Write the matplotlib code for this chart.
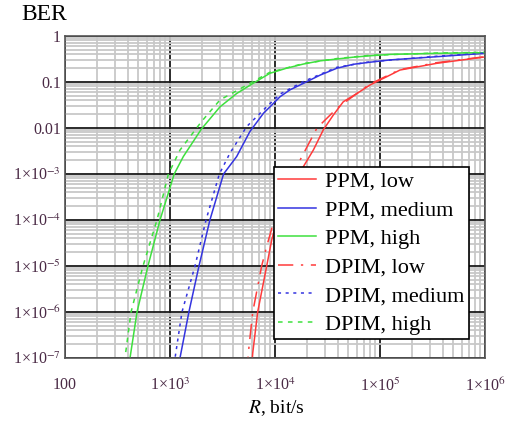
import numpy as np
import matplotlib.pyplot as plt
from matplotlib.ticker import LogLocator, FixedLocator

plt.rcParams['font.family'] = ['Liberation Serif', 'DejaVu Serif']
plt.rcParams['mathtext.fontset'] = 'stix'

# values, as log10(R, bit/s) and log10(BER)
lgr_ppm_high = [2.605, 2.619, 2.686, 2.79, 2.905, 3.04, 3.127, 3.30, 3.476, 3.635, 3.79, 3.952, 4.11, 4.27, 4.43, 4.59, 4.746, 4.905, 5.095, 5.54, 6.0]
lgb_ppm_high = [-7.3, -7, -6, -5, -4, -3, -2.62, -2.02, -1.54, -1.25, -1.03, -0.81, -0.70, -0.61, -0.54, -0.50, -0.46, -0.43, -0.40, -0.376, -0.362]
lgr_dpim_high = [2.555, 2.571, 2.629, 2.743, 2.876, 2.985, 3.095, 3.30, 3.476, 3.76, 3.95, 4.27, 4.59, 4.905, 5.54, 6.0]
lgb_dpim_high = [-7.3, -7, -6, -5, -4, -3, -2.48, -1.86, -1.39, -1.03, -0.79, -0.60, -0.49, -0.42, -0.37, -0.355]

lgr_ppm_med = [3.08, 3.095, 3.18, 3.276, 3.38, 3.51, 3.635, 3.76, 3.89, 3.97, 4.048, 4.143, 4.27, 4.43, 4.59, 4.746, 4.905, 5.095, 5.54, 6.0]
lgb_ppm_med = [-7.3, -7, -6, -5, -4, -3, -2.62, -2.08, -1.68, -1.5, -1.32, -1.17, -1.03, -0.85, -0.70, -0.615, -0.57, -0.52, -0.45, -0.376]
lgr_dpim_med = [3.03, 3.048, 3.114, 3.238, 3.343, 3.47, 3.57, 3.73, 3.92, 4.05, 4.27, 4.59, 4.905, 5.54, 6.0]
lgb_dpim_med = [-7.3, -7, -6, -5, -4, -3, -2.55, -1.97, -1.54, -1.26, -0.99, -0.68, -0.56, -0.44, -0.37]

lgr_ppm_low = [3.775, 3.788, 3.835, 3.921, 3.969, 4.02, 4.1, 4.18, 4.27, 4.365, 4.46, 4.555, 4.65, 4.78, 4.905, 5.0, 5.095, 5.19, 5.54, 6.0]
lgb_ppm_low = [-7.3, -6.89, -6, -5, -4.43, -4.0, -3.5, -3.15, -2.84, -2.48, -2.04, -1.72, -1.43, -1.25, -1.065, -0.957, -0.85, -0.74, -0.594, -0.455]
lgr_dpim_low = [3.735, 3.746, 3.788, 3.873, 3.92, 3.98, 4.06, 4.14, 4.222, 4.40, 4.6, 4.9, 5.19, 5.54, 6.0]
lgb_dpim_low = [-7.3, -6.89, -6, -5, -4.58, -4.1, -3.6, -3.2, -2.77, -2.0, -1.55, -1.05, -0.73, -0.58, -0.45]

x_ticks = [100, 1e3, 1e4, 1e5, 1e6]
x_labels = ['100', '1×10$^{3}$', '1×10$^{4}$', '1×10$^{5}$', '1×10$^{6}$']
y_ticks = [1, 0.1, 0.01, 1e-3, 1e-4, 1e-5, 1e-6, 1e-7]
y_labels = ['1', '0.1', '0.01', '1×10$^{-3}$', '1×10$^{-4}$', '1×10$^{-5}$', '1×10$^{-6}$', '1×10$^{-7}$']

red = '#ff3b3b'
blue = '#3434e0'
green = '#3ee03e'


def pw(a):
    return 10.0 ** np.array(a)


fig = plt.figure(figsize=(5.11, 4.25), dpi=100)
ax = fig.add_axes([65 / 511, 1 - 358 / 425, 420 / 511, 322 / 425])
ax.set_xscale('log')
ax.set_yscale('log')

ax.plot(pw(lgr_ppm_low), pw(lgb_ppm_low), color=red, lw=1.1, label='PPM, low')
ax.plot(pw(lgr_ppm_med), pw(lgb_ppm_med), color=blue, lw=1.1, label='PPM, medium')
ax.plot(pw(lgr_ppm_high), pw(lgb_ppm_high), color=green, lw=1.1, label='PPM, high')
ax.plot(pw(lgr_dpim_low), pw(lgb_dpim_low), color=red, lw=1.1, ls=(0, (10, 5, 1.5, 5)), label='DPIM, low')
ax.plot(pw(lgr_dpim_med), pw(lgb_dpim_med), color=blue, lw=1.1, ls=(0, (2, 3)), label='DPIM, medium')
ax.plot(pw(lgr_dpim_high), pw(lgb_dpim_high), color=green, lw=1.1, ls=(0, (3, 3.5)), label='DPIM, high')

ax.set_xlim(100, 1e6)
ax.set_ylim(1e-7, 1)
ax.xaxis.set_major_locator(FixedLocator(x_ticks))
ax.set_xticklabels(x_labels)
ax.yaxis.set_major_locator(FixedLocator(y_ticks))
ax.set_yticklabels(y_labels)
ax.xaxis.set_minor_locator(LogLocator(base=10, subs=np.arange(2, 10), numticks=20))
ax.yaxis.set_minor_locator(LogLocator(base=10, subs=np.arange(2, 10), numticks=20))
ax.grid(True, which='minor', color='#c8c8c8', lw=1.3)
ax.grid(True, which='major', color='#1a1a1a', lw=1.3)
ax.set_axisbelow(True)
ax.tick_params(which='both', length=0)
ax.tick_params(axis='x', pad=14, labelsize=11.5, labelcolor='#4a2a45')
ax.tick_params(axis='y', pad=3, labelsize=11.5, labelcolor='#4a2a45')
for s in ax.spines.values():
    s.set_color('#555555')
    s.set_linewidth(1.2)

leg = ax.legend(loc='upper left', bbox_to_anchor=(274 / 511, 1 - 167 / 425),
                bbox_transform=fig.transFigure, fontsize=16, frameon=True,
                fancybox=False, edgecolor='black', framealpha=1,
                borderpad=0.2, borderaxespad=0, handlelength=1.7,
                handletextpad=0.4, labelspacing=0.36)
leg.get_frame().set_linewidth(1.2)
leg.set_zorder(5)

fig.text(21 / 511, 1 - 14 / 425, 'BER', fontsize=17, va='center', ha='left')
fig.text(276 / 511, 1 - 408 / 425, '$\\mathit{R}$, bit/s', fontsize=14, va='center', ha='center')

fig.savefig('out.png', dpi=100)
